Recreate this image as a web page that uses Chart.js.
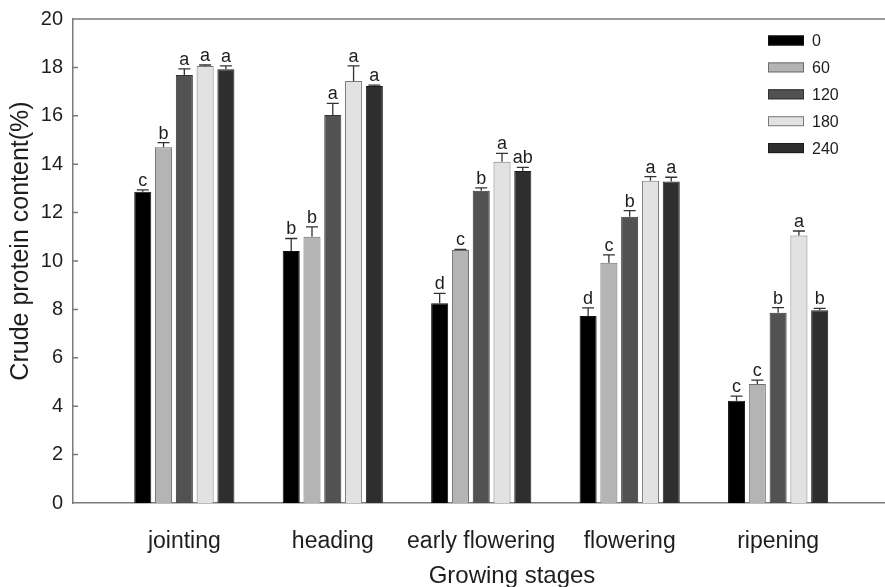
<!DOCTYPE html>
<html>
<head>
<meta charset="utf-8">
<script src="https://cdn.jsdelivr.net/npm/chart.js@4/dist/chart.umd.min.js"></script>
<style>
  html, body { margin: 0; padding: 0; background: #fff; }
  #wrap { width: 885px; height: 587px; }
</style>
</head>
<body>
<div id="wrap"><canvas id="chart"></canvas></div>
<script>
const stages = ["jointing", "heading", "early flowering", "flowering", "ripening"];
const treatments = ["0", "60", "120", "180", "240"];

// crude protein content (%) per treatment, one value per stage
const cp0 = [12.86, 10.41, 8.25, 7.73, 4.23];
const cp60 = [14.7, 11.0, 10.45, 9.93, 4.92];
const cp120 = [17.69, 16.03, 12.9, 11.83, 7.86];
const cp180 = [18.06, 17.44, 14.1, 13.32, 11.05];
const cp240 = [17.92, 17.23, 13.72, 13.28, 7.96];

// standard errors
const se0 = [0.08, 0.52, 0.41, 0.33, 0.19];
const se60 = [0.19, 0.41, 0.03, 0.32, 0.16];
const se120 = [0.25, 0.48, 0.12, 0.25, 0.21];
const se180 = [0.04, 0.62, 0.35, 0.17, 0.19];
const se240 = [0.14, 0.04, 0.15, 0.18, 0.08];

// significance letters
const sig0 = ["c", "b", "d", "d", "c"];
const sig60 = ["b", "b", "c", "c", "c"];
const sig120 = ["a", "a", "b", "b", "b"];
const sig180 = ["a", "a", "a", "a", "a"];
const sig240 = ["a", "a", "ab", "a", "b"];

const yTicks = [0, 2, 4, 6, 8, 10, 12, 14, 16, 18, 20];

const values = [cp0, cp60, cp120, cp180, cp240];
const errors = [se0, se60, se120, se180, se240];
const letters = [sig0, sig60, sig120, sig180, sig240];
const fills = ["#000000", "#b4b4b4", "#525252", "#e2e2e2", "#2e2e2e"];
const borders = ["#111111", "#6e6e6e", "#333333", "#7a7a7a", "#1c1c1c"];

const FONT = "'Liberation Sans', Arial, sans-serif";
const TXT = "#1e1e1e";
const AXIS = "#7a7a7a";

const datasets = treatments.map((t, k) => ({
  label: t,
  data: values[k].map((v, i) => ({ x: i, y: v })),
  backgroundColor: fills[k],
  borderColor: borders[k],
  borderWidth: 1,
  categoryPercentage: 0.7,
  barPercentage: 0.82,
}));

const extras = {
  id: "extras",
  afterDatasetsDraw(chart) {
    const ctx = chart.ctx;
    const y = chart.scales.y;
    const area = chart.chartArea;
    ctx.save();

    // top frame line
    ctx.strokeStyle = AXIS;
    ctx.lineWidth = 1.5;
    ctx.beginPath();
    ctx.moveTo(area.left, area.top);
    ctx.lineTo(area.right, area.top);
    ctx.stroke();

    // inward ticks on y axis
    ctx.beginPath();
    yTicks.forEach((t) => {
      if (t === 0 || t === 20) return;
      const py = y.getPixelForValue(t);
      ctx.moveTo(area.left, py);
      ctx.lineTo(area.left + 5, py);
    });
    ctx.stroke();

    // error bars + letters
    chart.data.datasets.forEach((ds, k) => {
      const meta = chart.getDatasetMeta(k);
      meta.data.forEach((bar, i) => {
        const top = y.getPixelForValue(values[k][i] + errors[k][i]);
        ctx.strokeStyle = "#333";
        ctx.lineWidth = 1.3;
        ctx.beginPath();
        ctx.moveTo(bar.x, bar.y);
        ctx.lineTo(bar.x, top);
        ctx.moveTo(bar.x - 6, top);
        ctx.lineTo(bar.x + 6, top);
        ctx.stroke();
        ctx.fillStyle = TXT;
        ctx.font = "18px " + FONT;
        ctx.textAlign = "center";
        ctx.textBaseline = "alphabetic";
        ctx.fillText(letters[k][i], bar.x, top - 4);
      });
    });

    // legend
    const lx = area.right - 117;
    chart.data.datasets.forEach((ds, k) => {
      const cy = area.top + 21.5 + k * 26.9;
      ctx.fillStyle = ds.backgroundColor;
      ctx.strokeStyle = ds.borderColor;
      ctx.lineWidth = 1;
      ctx.fillRect(lx, cy - 5, 36, 10);
      ctx.strokeRect(lx + 0.5, cy - 4.5, 35, 9);
      ctx.fillStyle = TXT;
      ctx.font = "16px " + FONT;
      ctx.textAlign = "left";
      ctx.textBaseline = "middle";
      ctx.fillText(ds.label, lx + 44, cy + 1);
    });

    // axis titles
    ctx.fillStyle = TXT;
    ctx.font = "24px " + FONT;
    ctx.textAlign = "center";
    ctx.textBaseline = "middle";
    ctx.fillText("Growing stages", 512, chart.height - 11);
    ctx.font = "25px " + FONT;
    ctx.translate(21, 241);
    ctx.rotate(-Math.PI / 2);
    ctx.fillText("Crude protein content(%)", 0, 0);
    ctx.restore();
  },
};

new Chart(document.getElementById("chart"), {
  type: "bar",
  data: { datasets: datasets },
  plugins: [extras],
  options: {
    responsive: true,
    maintainAspectRatio: false,
    animation: false,
    layout: { padding: { top: 19, right: 0, left: 0, bottom: 0 } },
    plugins: {
      legend: { display: false },
      tooltip: { enabled: false },
    },
    scales: {
      x: {
        type: "linear",
        offset: false,
        min: -0.75,
        max: 4.72,
        afterBuildTicks: (scale) => {
          scale.ticks = stages.map((s, i) => ({ value: i }));
        },
        afterFit: (scale) => {
          scale.height = 84;
          scale.paddingLeft = 0;
          scale.paddingRight = 0;
        },
        grid: { display: false, drawTicks: false },
        border: { color: AXIS, width: 1.5 },
        ticks: {
          autoSkip: false,
          maxRotation: 0,
          padding: 25,
          color: TXT,
          font: { family: FONT, size: 23 },
          callback: (v) => stages[v],
        },
      },
      y: {
        min: 0,
        max: 20,
        afterBuildTicks: (scale) => {
          scale.ticks = yTicks.map((v) => ({ value: v }));
        },
        afterFit: (scale) => {
          scale.width = 73;
          scale.paddingTop = 0;
          scale.paddingBottom = 0;
        },
        grid: { display: false, drawTicks: false },
        border: { color: AXIS, width: 1.5 },
        ticks: {
          padding: 10,
          color: TXT,
          font: { family: FONT, size: 20 },
        },
      },
    },
  },
});
</script>
</body>
</html>
